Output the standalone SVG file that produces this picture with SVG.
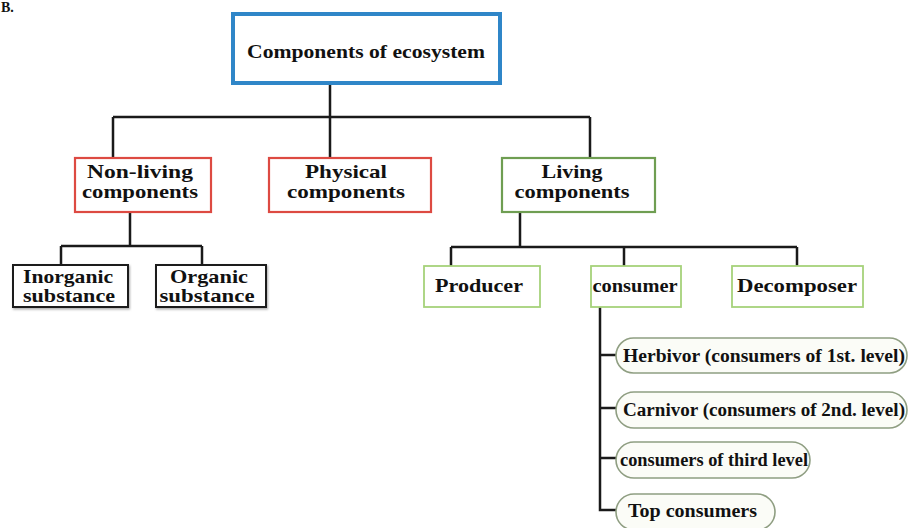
<svg xmlns="http://www.w3.org/2000/svg" width="909" height="528" viewBox="0 0 909 528">
<style>
text{font-family:"Liberation Serif","Times New Roman",serif;font-weight:bold;fill:#111;font-size:19px}
.m{text-anchor:middle}
.s{font-size:18px}
.blue{fill:#fff;stroke:#2f86c8;stroke-width:4}
.red{fill:#fff;stroke:#dd4a42;stroke-width:2.2}
.dg{fill:#fff;stroke:#6f9e52;stroke-width:2.2}
.lg{fill:#fff;stroke:#a6d27a;stroke-width:1.8}
.blk{fill:#fff;stroke:#1a1a1a;stroke-width:2;filter:url(#sh)}
.pill{fill:#fbfcf7;stroke:#8f9e82;stroke-width:1.6}
.c{fill:none;stroke:#1a1a1a;stroke-width:2.5}
</style>
<defs>
<filter id="sh" x="-10%" y="-10%" width="120%" height="130%">
<feDropShadow dx="1" dy="1.5" stdDeviation="0.8" flood-color="#888" flood-opacity="0.7"/>
</filter>
</defs>
<rect width="909" height="528" fill="#fff"/>
<text x="1" y="12" style="font-size:14px">B.</text>
<g id="connectors">
<path class="c" d="M330 83V157M113 117H590M113 117V158M590 117V158"/>
<path class="c" d="M130 212V246M61 246H202M61 246V265M202 246V265"/>
<path class="c" d="M520 212V247M451 247H797M451 247V266M624 247V266M797 247V266"/>
<path class="c" d="M600 307V510H616M600 355H616M600 408H616M600 458H616"/>
</g>
<g id="root"><rect class="blue" x="233" y="14" width="267" height="69"/>
<text class="m" x="366" y="58" textLength="238" lengthAdjust="spacingAndGlyphs">Components of ecosystem</text></g>
<g id="nonliving"><rect class="red" x="75" y="158" width="136" height="54"/>
<text class="m" x="140" y="178" textLength="106" lengthAdjust="spacingAndGlyphs">Non-living</text>
<text class="m" x="140" y="198" textLength="116" lengthAdjust="spacingAndGlyphs">components</text></g>
<g id="physical"><rect class="red" x="269" y="158" width="162" height="54"/>
<text class="m" x="346" y="178" textLength="82" lengthAdjust="spacingAndGlyphs">Physical</text>
<text class="m" x="346" y="198" textLength="118" lengthAdjust="spacingAndGlyphs">components</text></g>
<g id="living"><rect class="dg" x="502" y="158" width="153" height="54"/>
<text class="m" x="572" y="178" textLength="61" lengthAdjust="spacingAndGlyphs">Living</text>
<text class="m" x="572" y="198" textLength="115" lengthAdjust="spacingAndGlyphs">components</text></g>
<g id="inorganic"><rect class="blk" x="13" y="265" width="115" height="42"/>
<text class="m" x="68" y="283" textLength="90" lengthAdjust="spacingAndGlyphs">Inorganic</text>
<text class="m" x="69" y="302" textLength="92" lengthAdjust="spacingAndGlyphs">substance</text></g>
<g id="organic"><rect class="blk" x="156" y="265" width="110" height="42"/>
<text class="m" x="209" y="283" textLength="78" lengthAdjust="spacingAndGlyphs">Organic</text>
<text class="m" x="207" y="302" textLength="95" lengthAdjust="spacingAndGlyphs">substance</text></g>
<g id="producer"><rect class="lg" x="424" y="266" width="116" height="41"/>
<text class="m" x="479" y="292" textLength="88" lengthAdjust="spacingAndGlyphs">Producer</text></g>
<g id="consumer"><rect class="lg" x="591" y="266" width="90" height="41"/>
<text class="m" x="635" y="292" textLength="85" lengthAdjust="spacingAndGlyphs">consumer</text></g>
<g id="decomposer"><rect class="lg" x="732" y="266" width="131" height="41"/>
<text class="m" x="797" y="292" textLength="120" lengthAdjust="spacingAndGlyphs">Decomposer</text></g>
<g id="herbivor"><rect class="pill" x="616" y="338" width="291" height="35" rx="17.5"/>
<text class="s" x="623" y="362" textLength="282" lengthAdjust="spacingAndGlyphs">Herbivor (consumers of 1st. level)</text></g>
<g id="carnivor"><rect class="pill" x="616" y="392" width="291" height="36" rx="18"/>
<text class="s" x="623" y="416" textLength="282" lengthAdjust="spacingAndGlyphs">Carnivor (consumers of 2nd. level)</text></g>
<g id="third"><rect class="pill" x="616" y="442" width="194" height="36" rx="18"/>
<text class="s" x="620" y="466" textLength="188" lengthAdjust="spacingAndGlyphs">consumers of third level</text></g>
<g id="top"><rect class="pill" x="616" y="494" width="159" height="36" rx="18"/>
<text class="s" x="628" y="517" textLength="129" lengthAdjust="spacingAndGlyphs">Top consumers</text></g>
</svg>
